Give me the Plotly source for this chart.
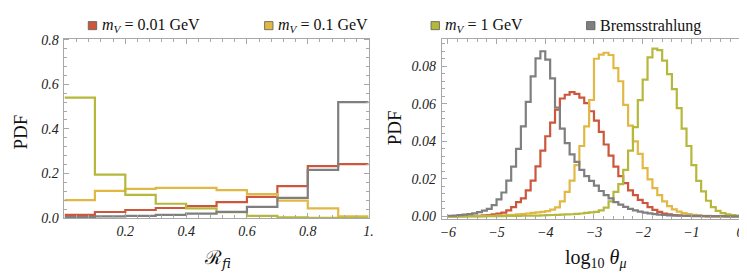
import plotly.graph_objects as go

W, H = 747, 274

# ---------------- data ----------------
series_names = ["m_V = 0.01 GeV", "m_V = 0.1 GeV", "m_V = 1 GeV", "Bremsstrahlung"]
colors = ["#CC573C", "#E2B845", "#B6B83C", "#7F7F7F"]

# Left panel: R_fi histogram, bins of width 0.1 on [0, 1]
rfi_edges = [0.0, 0.1, 0.2, 0.3, 0.4, 0.5, 0.6, 0.7, 0.8, 0.9, 1.0]
rfi_red = [0.014, 0.027, 0.036, 0.045, 0.054, 0.071, 0.095, 0.143, 0.233, 0.242]
rfi_yellow = [0.080, 0.122, 0.131, 0.135, 0.135, 0.125, 0.107, 0.078, 0.043, 0.007]
rfi_green = [0.540, 0.195, 0.104, 0.064, 0.043, 0.026, 0.010, 0.003, 0.001, 0.001]
rfi_gray = [0.004, 0.007, 0.010, 0.014, 0.020, 0.028, 0.050, 0.090, 0.216, 0.520]

# Right panel: log10 theta_mu histogram, bins of width 0.1 on [-6, 0]
th_edges = [round(-6 + 0.1 * i, 1) for i in range(61)]
th_red = [0.0, 0.0, 0.0001, 0.0001, 0.0002, 0.0002, 0.0003, 0.0005, 0.0007, 0.001, 0.0014,
          0.002, 0.0032, 0.0049, 0.0076, 0.0096, 0.0138, 0.019, 0.0266, 0.035, 0.0427,
          0.050, 0.0569, 0.0628, 0.0648, 0.0662, 0.0653, 0.0633, 0.0603, 0.056, 0.051,
          0.045, 0.0383, 0.0324,
          0.0265, 0.0214, 0.0177, 0.0138, 0.0113, 0.0088, 0.0071, 0.0049, 0.0034, 0.0024,
          0.0015, 0.001, 0.0007, 0.0005, 0.0003, 0.0002, 0.0001, 0.0001, 0.0001,
          0.0, 0.0, 0.0, 0.0, 0.0, 0.0, 0.0]
th_yellow = [0.0, 0.0, 0.0, 0.0, 0.0001, 0.0001, 0.0001, 0.0002, 0.0002, 0.0003,
             0.0004, 0.0005, 0.0006, 0.0008, 0.001, 0.0012, 0.0015, 0.0018, 0.0021, 0.0024,
             0.0028, 0.0036, 0.0048, 0.008, 0.013, 0.019, 0.0273, 0.0375, 0.048, 0.062,
             0.084, 0.0862, 0.0872, 0.086, 0.079, 0.072, 0.0594, 0.0484, 0.040, 0.0333,
             0.0257, 0.0197, 0.015, 0.0113, 0.008, 0.0054, 0.0037, 0.0025, 0.0017, 0.0012,
             0.0008, 0.0005, 0.0003, 0.0002, 0.0001, 0.0001, 0.0, 0.0, 0.0, 0.0]
th_green = [0.0, 0.0, 0.0, 0.0, 0.0, 0.0, 0.0, 0.0, 0.0001, 0.0001,
            0.0001, 0.0001, 0.0002, 0.0002, 0.0002, 0.0003, 0.0003, 0.0004, 0.0004, 0.0005,
            0.0006, 0.0007, 0.0008, 0.0009, 0.001, 0.0011, 0.0013, 0.0015, 0.0018, 0.0021,
            0.0024, 0.0032, 0.0046, 0.008, 0.013, 0.0172, 0.0248, 0.035, 0.0476,
            0.0619, 0.0729, 0.0847, 0.0894, 0.0886, 0.083, 0.0758, 0.0678, 0.0577, 0.0467,
            0.0375, 0.0273, 0.0189, 0.0133, 0.0083, 0.0049, 0.0029, 0.0017, 0.001, 0.0006, 0.0004]
th_gray = [0.0003, 0.0004, 0.0006, 0.0009, 0.0012, 0.0016, 0.0022,
           0.003, 0.004, 0.006, 0.009, 0.0127, 0.019, 0.0265, 0.036, 0.048, 0.061, 0.0746,
           0.0842, 0.088,
           0.0835, 0.0735, 0.058, 0.0467, 0.039, 0.033, 0.029, 0.0248, 0.0214, 0.0189,
           0.0164, 0.0135, 0.0113, 0.0096, 0.0076, 0.0062, 0.005, 0.004, 0.0032, 0.0025,
           0.002, 0.0016, 0.0012, 0.0009, 0.0007, 0.0005, 0.0004, 0.0003, 0.0003, 0.0002,
           0.0002, 0.0002, 0.0001, 0.0001, 0.0001, 0.0001, 0.0001, 0.0, 0.0, 0.0]

left_ticks = [0.2, 0.4, 0.6, 0.8, 1.0]
left_ticktext = ["0.2", "0.4", "0.6", "0.8", "1."]
left_yticks = [0.0, 0.2, 0.4, 0.6, 0.8]
left_yticktext = ["0.0", "0.2", "0.4", "0.6", "0.8"]
right_ticks = [-6, -5, -4, -3, -2, -1, 0]
right_ticktext = ["\u22126", "\u22125", "\u22124", "\u22123", "\u22122", "\u22121", "0"]
right_yticks = [0.0, 0.02, 0.04, 0.06, 0.08]
right_yticktext = ["0.00", "0.02", "0.04", "0.06", "0.08"]

# ---------------- figure ----------------
fig = go.Figure()

def step(edges, vals):
    return list(edges), list(vals) + [vals[-1]]

for vals, c in zip([rfi_red, rfi_yellow, rfi_green, rfi_gray], colors):
    x, y = step(rfi_edges, vals)
    fig.add_trace(go.Scatter(x=x, y=y, mode="lines", line=dict(color=c, width=2.2, shape="hv"),
                             xaxis="x", yaxis="y", showlegend=False, hoverinfo="skip"))
for vals, c in zip([th_red, th_yellow, th_green, th_gray], colors):
    x, y = step(th_edges, vals)
    fig.add_trace(go.Scatter(x=x, y=y, mode="lines", line=dict(color=c, width=2.2, shape="hv"),
                             xaxis="x2", yaxis="y2", showlegend=False, hoverinfo="skip"))

serif = "Liberation Serif"
tickfont = dict(family=serif, size=14, color="#222222", style="italic")
frame = "#A8A8A8"

def px_x(p):
    return p / W

def px_y(p):
    return 1 - p / H

common = dict(showline=True, linecolor=frame, linewidth=1, mirror="allticks",
              ticks="inside", tickcolor=frame, ticklen=5, tickwidth=1,
              showgrid=False, zeroline=False, tickfont=tickfont, fixedrange=True)

fig.update_layout(
    width=W, height=H, margin=dict(l=0, r=0, t=0, b=0),
    paper_bgcolor="white", plot_bgcolor="white",
    font=dict(family=serif),
    xaxis=dict(domain=[px_x(55), px_x(362)], range=[0, 1], anchor="y",
               tickmode="array", tickvals=left_ticks, ticktext=left_ticktext,
               minor=dict(ticks="inside", ticklen=3, tickcolor=frame, tickmode="linear", tick0=0, dtick=0.04),
               ticklabelstandoff=0, **common),
    yaxis=dict(domain=[px_y(215), px_y(26)], range=[0, 0.805], anchor="x",
               tickmode="array", tickvals=left_yticks, ticktext=left_yticktext,
               minor=dict(ticks="inside", ticklen=3, tickcolor=frame, tickmode="linear", tick0=0, dtick=0.04),
               ticklabelstandoff=2, **common),
    xaxis2=dict(domain=[px_x(436), px_x(743)], range=[-6.122, 0.122], anchor="y2",
                tickmode="array", tickvals=right_ticks, ticktext=right_ticktext,
                minor=dict(ticks="inside", ticklen=3, tickcolor=frame, tickmode="linear", tick0=0, dtick=0.2),
                ticklabelstandoff=0, **common),
    yaxis2=dict(domain=[px_y(216), px_y(26)], range=[-0.0014, 0.0947], anchor="x2",
                tickmode="array", tickvals=right_yticks, ticktext=right_yticktext,
                minor=dict(ticks="inside", ticklen=3, tickcolor=frame, tickmode="linear", tick0=0, dtick=0.004),
                ticklabelstandoff=2, **common),
)

ann = []
shapes = []

# Legend (squares + text)
legend_html = [
    "<i>m</i><sub><i>V</i></sub> = 0.01 GeV",
    "<i>m</i><sub><i>V</i></sub> = 0.1 GeV",
    "<i>m</i><sub><i>V</i></sub> = 1 GeV",
    "Bremsstrahlung",
]
sq_x = [79, 257, 425, 582]
for sx, c, txt in zip(sq_x, colors, legend_html):
    shapes.append(dict(type="rect", xref="paper", yref="paper",
                       x0=px_x(sx), x1=px_x(sx + 8.5), y0=px_y(16.5), y1=px_y(8),
                       fillcolor=c, line=dict(color="#5a5a5a", width=0.8)))
    ann.append(dict(xref="paper", yref="paper", x=px_x(sx + 12), y=px_y(12.5),
                    xanchor="left", yanchor="middle", showarrow=False, text=txt,
                    font=dict(family=serif, size=16, color="#111111")))

# Axis titles
ann.append(dict(xref="paper", yref="paper", x=px_x(11), y=px_y(124), text="PDF", textangle=-90,
                showarrow=False, xanchor="center", yanchor="middle",
                font=dict(family=serif, size=19, color="#111111")))
ann.append(dict(xref="paper", yref="paper", x=px_x(389), y=px_y(120), text="PDF", textangle=-90,
                showarrow=False, xanchor="center", yanchor="middle",
                font=dict(family=serif, size=19, color="#111111")))
ann.append(dict(xref="paper", yref="paper", x=px_x(209), y=px_y(258),
                text="\u211B<sub><i>fi</i></sub>", showarrow=False, xanchor="center", yanchor="middle",
                font=dict(family="DejaVu Serif", size=19, color="#111111")))
ann.append(dict(xref="paper", yref="paper", x=px_x(591), y=px_y(258),
                text="log<sub>10</sub> <i>\u03b8</i><sub><i>\u03bc</i></sub>", showarrow=False,
                xanchor="center", yanchor="middle",
                font=dict(family=serif, size=20, color="#111111")))

fig.update_layout(annotations=ann, shapes=shapes)
fig.write_html("out.html")
